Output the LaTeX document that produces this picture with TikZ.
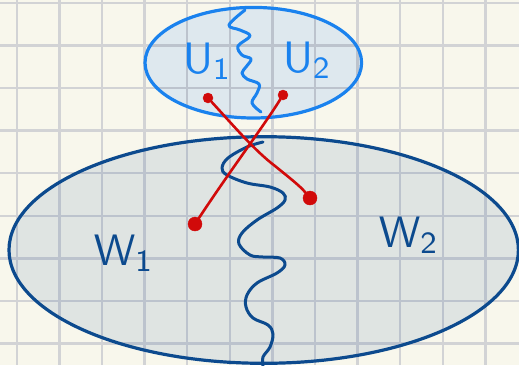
\documentclass[tikz,border=0pt]{standalone}
\usepackage{tikz}
\usetikzlibrary{calc}
\definecolor{paper}{HTML}{F8F7EC}
\definecolor{gridgray}{HTML}{D2D3D5}
\definecolor{gridblue}{HTML}{BCC3CD}
\definecolor{skyblue}{HTML}{1A82EE}
\definecolor{skyfill}{HTML}{DEE8EE}
\definecolor{navy}{HTML}{0C4A8E}
\definecolor{navyfill}{HTML}{DFE4E2}
\definecolor{inkred}{HTML}{D10A0A}

\begin{document}
\begin{tikzpicture}[
  x=1pt, y=-1pt,
  rule/.style={line width=2.4pt},
  rim/.style={line width=3.2pt},
  squig/.style={line width=3pt, line cap=round, line join=round},
  wire/.style={inkred, line width=2.6pt, line cap=round},
  dot/.style={circle, fill=inkred, draw=inkred, inner sep=0pt, minimum size=10pt},
  bigdot/.style={dot, minimum size=14pt},
  lab/.style={inner sep=0pt, scale=4.4}]

\useasboundingbox (0,0) rectangle (519,365);
\fill[paper] (0,0) rectangle (519,365);

% ---- squared paper ------------------------------------------------------
\foreach \gx in {0,...,11}
  \draw[rule, gridgray] ({16.7+42.6*\gx},0) -- ++(0,365);
\foreach \gy in {0,...,8}
  \draw[rule, gridgray] (0,{2.7+42.6*\gy}) -- ++(519,0);

% ---- the two regions ----------------------------------------------------
\fill[navyfill] (263.7,250) ellipse [x radius=254.7, y radius=113.3];
\fill[skyfill]  (253.3,62.7) ellipse [x radius=108.3, y radius=55.3];

\begin{scope}
  \clip (263.7,250) ellipse [x radius=254.7, y radius=113.3];
  \foreach \gx in {0,...,11}
    \draw[rule, gridblue] ({16.7+42.6*\gx},0) -- ++(0,365);
  \foreach \gy in {0,...,8}
    \draw[rule, gridblue] (0,{2.7+42.6*\gy}) -- ++(519,0);
\end{scope}
\begin{scope}
  \clip (253.3,62.7) ellipse [x radius=108.3, y radius=55.3];
  \foreach \gx in {0,...,11}
    \draw[rule, gridblue] ({16.7+42.6*\gx},0) -- ++(0,365);
  \foreach \gy in {0,...,8}
    \draw[rule, gridblue] (0,{2.7+42.6*\gy}) -- ++(519,0);
\end{scope}

\draw[rim, navy]    (263.7,250) ellipse [x radius=254.7, y radius=113.3];
\draw[rim, skyblue] (253.3,62.7) ellipse [x radius=108.3, y radius=55.3];

% ---- the cuts -----------------------------------------------------------
\draw[squig, skyblue] plot[smooth, tension=0.6] coordinates {
  (245,10) (229,25) (240,30) (250,36) (238,46) (242,55) (251,59)
  (246,67) (242,73) (247,79) (259,84) (257,93) (252,103) (261,112)};
\draw[squig, navy] plot[smooth, tension=0.6] coordinates {
  (263,142) (247,147) (228,158) (222,168) (227,175) (247,183) (270,187)
  (283,193) (285,200) (277,208) (257,220) (242,233) (239,244) (250,255)
  (263,257) (280,258) (285,265) (277,273) (257,283) (247,295) (246,307)
  (253,318) (268,325) (273,334) (270,347) (263,357) (263,366)};

% ---- labels -------------------------------------------------------------
\node[lab, skyblue, anchor=base west] (u1) at (182,73)  {$\mathsf{U}_{\mathsf{1}}$};
\node[lab, skyblue, anchor=base west] (u2) at (282,72)  {$\mathsf{U}_{\mathsf{2}}$};
\node[lab, navy,    anchor=base west] (w1) at (93,265)  {$\mathsf{W}_{\mathsf{1}}$};
\node[lab, navy,    anchor=base west] (w2) at (378,247) {$\mathsf{W}_{\mathsf{2}}$};

% ---- the crossing pair --------------------------------------------------
\node[dot]    (pa) at (208,98)  {};
\node[dot]    (pb) at (283,95)  {};
\node[bigdot] (pc) at (195,224) {};
\node[bigdot] (pd) at (310,198) {};

\draw[wire] (pa) .. controls (232,124) and (254,150) .. (275,166)
                 .. controls (291,179) and (300,186) .. (pd);
\draw[wire] (pb) .. controls (263,127) and (232,168) .. (pc);

\end{tikzpicture}
\end{document}
